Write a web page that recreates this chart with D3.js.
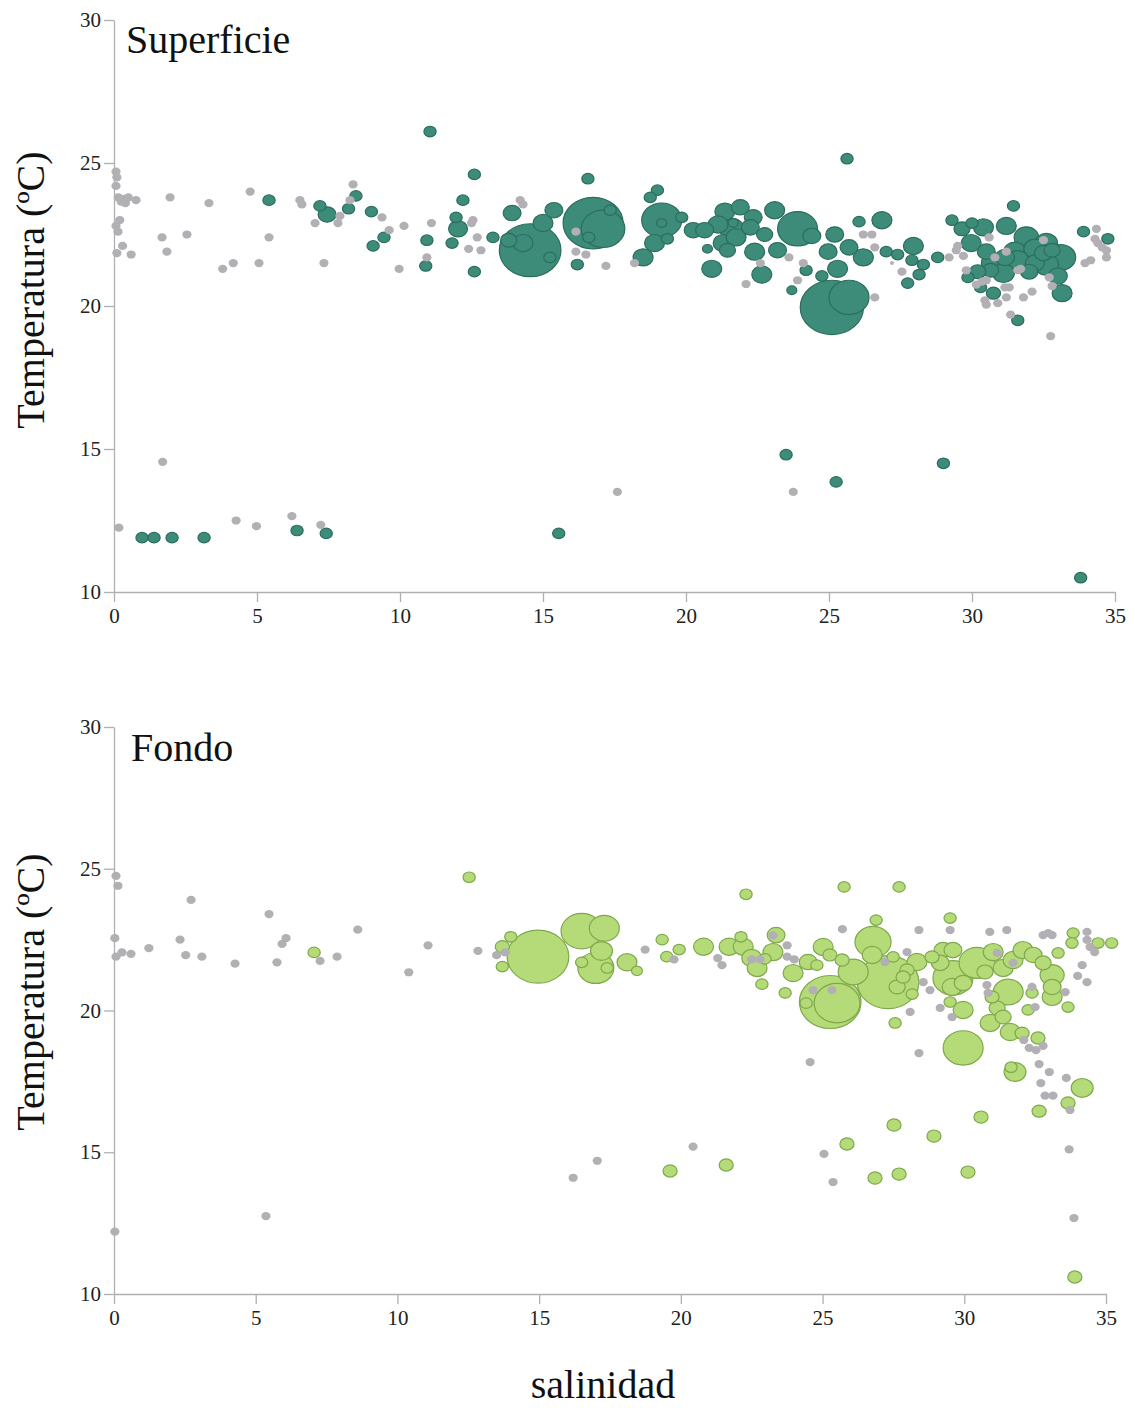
<!DOCTYPE html>
<html><head><meta charset="utf-8">
<script src="https://cdn.jsdelivr.net/npm/d3@7"></script>
<style>body{margin:0;background:#fff} svg{display:block} text{font-family:"Liberation Serif","Times New Roman",serif}</style>
</head><body><svg id="c" width="1135" height="1408"></svg>
<script>
const salTicks=[0,5,10,15,20,25,30,35];
const tempTicks=[10,15,20,25,30];
const panelTitles=["Superficie","Fondo"];
const yLabel="Temperatura (ºC)";
const xLabel="salinidad";

// [salinidad, temperatura] – estaciones sin captura (gris)
const topGray=[[0.07,24.7],[0.1,24.5],[0.07,24.2],[0.15,23.8],[0.35,23.75],[0.5,23.8],[0.4,23.6],[0.25,23.65],[0.77,23.7],[0.2,23.0],[0.07,22.8],[0.14,22.6],[0.3,22.1],[0.1,21.85],[0.6,21.8],[1.96,23.8],[1.68,22.4],[1.85,21.9],[2.55,22.5],[3.32,23.6],[3.8,21.3],[4.17,21.5],[4.76,24.0],[5.07,21.5],[5.42,22.4],[6.5,23.7],[6.57,23.55],[7.34,21.5],[7.03,22.9],[7.83,22.9],[7.9,23.15],[8.36,24.25],[8.25,23.7],[9.37,23.1],[9.62,22.65],[10.14,22.8],[9.97,21.3],[11.1,22.9],[10.94,21.7],[12.5,22.9],[12.55,23.0],[12.4,22.0],[12.7,22.4],[12.83,21.95],[14.2,23.7],[14.3,23.55],[16.15,22.6],[16.15,21.9],[16.5,21.8],[17.2,21.4],[18.2,21.5],[22.6,21.5],[22.1,20.77],[23.6,21.7],[24.1,21.5],[23.9,20.9],[26.2,22.5],[26.5,22.5],[26.6,22.05],[26.6,20.3],[27.55,21.2],[29.2,21.7],[29.7,21.75],[29.5,22.1],[29.45,21.95],[29.8,21.25],[30.15,20.75],[30.35,20.85],[30.5,20.9],[30.6,22.4],[30.8,21.7],[31.2,21.9],[31.6,21.25],[31.7,21.3],[31.15,20.65],[31.3,20.65],[30.45,20.2],[30.5,20.05],[30.9,20.1],[31.2,20.3],[31.8,20.3],[32.1,20.5],[32.5,22.3],[32.7,21.0],[32.8,20.7],[31.35,19.7],[32.75,18.95],[34.35,22.7],[34.3,22.35],[34.4,22.2],[34.55,22.05],[34.7,21.95],[34.7,21.7],[33.95,21.5],[34.15,21.6],[0.17,12.25],[1.7,14.55],[4.27,12.5],[4.98,12.3],[6.22,12.65],[7.23,12.35],[17.6,13.5],[23.75,13.5]];
const topTiny=[[27.2,21.5]];

// [salinidad, temperatura, abundancia]
const topBubbles=[[5.42,23.7,1.5],[7.2,23.5,1.5],[7.45,23.2,3.2],[8.46,23.85,1.5],[8.2,23.4,1.5],[9.0,23.3,1.5],[9.44,22.4,1.5],[9.06,22.1,1.5],[10.94,22.3,1.5],[10.9,21.4,1.5],[11.05,26.1,1.5],[12.2,23.7,1.5],[11.96,23.1,1.5],[12.03,22.7,3.6],[11.82,22.2,1.5],[12.6,24.6,1.5],[12.6,21.2,1.5],[13.92,23.25,3.2],[13.25,22.4,1.5],[14.55,21.95,38],[14.3,22.2,4],[13.8,22.3,2.6],[15.0,22.9,4],[15.38,23.35,3.2],[15.24,21.7,1.5],[16.57,24.45,1.5],[16.2,21.45,1.5],[16.75,22.9,36],[17.1,22.7,19],[17.35,23.35,1.5],[16.6,22.4,1.5],[19.0,24.05,1.5],[18.75,23.8,1.5],[19.15,23.0,16],[19.15,22.9,1],[19.85,23.1,1.5],[18.9,22.2,4],[18.5,21.7,4],[19.35,22.35,1.5],[20.25,22.65,3.2],[20.65,22.65,3.2],[21.36,23.3,4],[21.9,23.45,3.2],[22.35,23.1,3.2],[21.65,22.9,1],[21.12,22.85,4],[21.3,22.2,4],[22.25,22.75,3.2],[21.75,22.4,4],[21.6,22.7,6],[20.75,22.0,1],[21.45,21.95,2.6],[22.4,21.9,4],[22.75,22.5,2.6],[23.1,23.35,4],[23.2,21.95,3.2],[20.9,21.3,4],[22.65,21.1,4],[23.9,22.7,16],[24.4,22.45,3.2],[24.97,21.9,3.2],[25.2,22.5,3.2],[25.7,22.05,3.2],[26.2,21.7,4],[26.05,22.95,1.5],[26.85,23.0,4],[25.3,21.3,4],[24.75,21.05,1.5],[24.2,21.25,1.5],[23.7,20.55,1],[25.63,25.15,1.5],[25.1,19.95,40],[25.7,20.3,16],[27.0,21.9,1.5],[27.4,21.8,1.5],[27.95,22.1,4],[27.9,21.6,1.5],[28.3,21.45,1.5],[28.15,21.1,1.5],[27.75,20.8,1.5],[28.8,21.7,1.5],[29.3,23.0,1.5],[29.65,22.7,2.6],[30.0,22.9,1.5],[30.4,22.75,4],[29.97,22.2,4],[31.2,22.8,4],[31.45,23.5,1.5],[31.9,22.4,6],[32.6,22.2,5],[33.1,21.7,9],[32.6,21.45,6],[33.0,21.05,3.6],[33.15,20.45,4],[31.5,21.9,5],[31.15,21.7,3.6],[30.75,21.5,5.8],[31.1,21.15,4.8],[30.65,21.25,2.6],[30.2,21.2,2.6],[29.86,21.0,1.5],[30.3,20.65,1.5],[30.75,20.45,2],[32.2,21.5,3.6],[32.5,21.85,3.2],[32.8,21.95,2.6],[32.2,22.0,5],[31.6,21.6,5],[30.5,21.9,3.2],[32.0,21.2,3],[31.6,19.5,1.5],[33.9,22.6,1.5],[34.75,22.35,1.5],[0.98,11.9,1.5],[1.4,11.9,1.5],[2.03,11.9,1.5],[3.15,11.9,1.5],[6.4,12.15,1.5],[7.42,12.05,1.5],[15.55,12.05,1.5],[23.5,14.8,1.5],[25.25,13.85,1.5],[29.0,14.5,1.5],[33.8,10.5,1.5]];

const bottomGray=[[0.07,24.75],[0.14,24.4],[0.03,22.55],[0.07,21.9],[0.28,22.05],[0.6,22.0],[1.23,22.2],[2.72,23.9],[2.33,22.5],[2.53,21.95],[3.1,21.9],[4.27,21.65],[5.47,23.4],[6.07,22.55],[5.93,22.35],[5.75,21.7],[7.27,21.75],[7.87,21.9],[8.6,22.85],[10.4,21.35],[11.08,22.3],[12.84,22.1],[13.5,21.95],[13.8,22.05],[18.74,22.15],[19.76,21.8],[21.3,21.85],[21.45,21.6],[22.5,21.8],[23.25,22.65],[23.75,22.3],[23.75,21.9],[24.0,21.8],[22.8,21.8],[25.7,22.87],[24.66,20.72],[25.33,20.72],[24.56,18.18],[27.2,21.71],[27.98,22.06],[28.4,22.84],[29.5,22.84],[28.09,19.95],[28.4,18.5],[28.55,21.0],[28.79,20.72],[29.15,20.09],[29.57,19.77],[30.9,22.77],[31.5,22.84],[31.16,22.03],[31.72,21.68],[30.8,20.9],[30.84,20.62],[32.78,22.66],[32.96,22.73],[33.1,22.66],[34.33,22.77],[34.33,22.49],[34.44,22.24],[34.6,22.06],[34.16,21.6],[34.0,21.22],[34.33,21.0],[32.39,20.83],[32.5,20.12],[33.56,20.65],[32.1,18.96],[32.29,18.68],[32.53,18.6],[32.78,18.75],[32.64,18.11],[33.0,17.83],[33.6,17.62],[32.7,17.44],[32.85,17.0],[33.13,17.0],[33.73,16.49],[33.7,15.1],[33.87,12.68],[25.05,14.94],[25.37,13.95],[20.43,15.2],[16.2,14.1],[17.05,14.7],[5.36,12.75],[0.03,12.2]];

const bottomBubbles=[[7.06,22.05,1.5],[12.53,24.7,1.5],[14.0,22.6,1.5],[13.7,22.25,2],[13.7,21.55,1.5],[14.96,21.9,38],[16.5,22.8,17],[17.3,22.9,9],[17.2,22.1,4.8],[17.0,21.5,13],[16.5,21.7,1.5],[17.4,21.5,1.5],[18.1,21.7,4],[18.45,21.4,1.2],[19.34,22.5,1.5],[19.94,22.15,1.5],[19.5,21.9,1.5],[20.8,22.25,4],[22.3,24.1,1.5],[21.7,22.25,4],[22.12,22.6,1.5],[22.2,22.25,4],[22.5,21.85,4],[22.69,21.5,4],[22.97,21.82,1.5],[22.86,20.93,1.5],[23.36,22.66,3.2],[23.25,22.06,4],[23.68,20.62,1.5],[23.96,21.32,4],[24.49,21.71,3.2],[25.02,22.24,4],[25.26,21.96,2],[25.69,21.78,2],[24.8,21.6,1.5],[25.27,20.3,38],[25.51,20.26,21],[24.42,20.26,1.5],[26.08,21.36,9],[26.78,22.42,13],[26.75,21.96,4],[27.31,21.0,38],[27.63,20.83,2.6],[27.56,19.56,1.5],[27.49,21.89,1.5],[27.98,21.43,2],[27.84,21.18,2],[28.16,20.58,1.5],[28.33,21.71,4],[28.86,21.89,2],[29.25,22.13,3.2],[29.6,22.13,3.2],[29.15,21.68,3.2],[29.6,21.15,16],[29.57,20.83,4],[29.96,20.97,3.2],[29.96,20.02,4],[29.5,20.3,1.5],[29.96,18.68,16],[30.45,21.68,13],[30.73,21.36,2.6],[31.02,22.06,4],[31.37,21.5,4],[31.55,20.65,9],[30.98,20.48,2],[31.16,20.09,2.6],[31.37,19.77,2.6],[30.91,19.56,4],[31.62,19.24,4],[32.04,19.2,2],[31.72,21.78,4],[32.07,22.13,4],[32.43,21.96,3.2],[32.78,21.68,2.6],[33.1,21.25,5.8],[33.1,20.83,3.2],[33.1,20.48,4],[33.31,22.03,1.5],[32.39,20.62,1.5],[32.25,20.02,1.5],[32.6,19.03,2],[31.79,17.83,4.8],[31.65,18.0,1.5],[34.16,17.27,4.8],[33.66,20.12,1.5],[25.76,24.36,1.5],[27.7,24.36,1.5],[26.89,23.19,1.5],[29.5,23.26,1.5],[33.84,22.73,1.5],[33.8,22.38,1.5],[34.72,22.38,1.5],[35.2,22.38,1.5],[33.66,16.74,2],[32.64,16.45,2],[30.59,16.24,2],[27.52,15.96,2],[28.93,15.57,2],[25.86,15.29,2],[26.85,14.09,2],[27.7,14.23,2],[30.13,14.3,2],[33.9,10.6,2],[19.62,14.34,2],[21.6,14.55,2]];

const FONT='"Liberation Serif","Times New Roman",serif';
const svg=d3.select('#c');
const rScale=d3.scaleSqrt().domain([0,40]).range([0,31.6]);
const ASPECT=0.86;

function panel(cfg){
  const x=d3.scaleLinear().domain([0,35]).range([cfg.left,cfg.right]);
  const y=d3.scaleLinear().domain([10,30]).range([cfg.bottom,cfg.top]);
  const g=svg.append('g');
  const bub=cfg.bubbles.slice().sort((a,b)=>b[2]-a[2]);
  g.selectAll('ellipse.b').data(bub).enter().append('ellipse').attr('class','b')
    .attr('cx',d=>x(d[0])).attr('cy',d=>y(d[1]))
    .attr('rx',d=>rScale(d[2])).attr('ry',d=>rScale(d[2])*ASPECT)
    .attr('fill',cfg.fill).attr('stroke',cfg.stroke).attr('stroke-width',1.2);
  g.selectAll('ellipse.g').data(cfg.gray).enter().append('ellipse').attr('class','g')
    .attr('cx',d=>x(d[0])).attr('cy',d=>y(d[1])).attr('rx',4.6).attr('ry',4.1)
    .attr('fill','#b2b0b4');
  if(cfg.tiny) g.selectAll('circle.t').data(cfg.tiny).enter().append('circle').attr('class','t')
    .attr('cx',d=>x(d[0])).attr('cy',d=>y(d[1])).attr('r',2).attr('fill','#b2b0b4');
  const ax=g.append('g').attr('transform',`translate(0,${cfg.bottom})`)
    .call(d3.axisBottom(x).tickValues(salTicks).tickSize(10).tickPadding(6).tickSizeOuter(0));
  const ay=g.append('g').attr('transform',`translate(${cfg.left},0)`)
    .call(d3.axisLeft(y).tickValues(tempTicks).tickSize(10).tickPadding(3).tickSizeOuter(0));
  [ax,ay].forEach(a=>{
    a.attr('font-family',null).attr('font-size',null);
    a.select('.domain').attr('stroke','#b0b0b0').attr('stroke-width',1.3);
    a.selectAll('.tick line').attr('stroke','#b0b0b0').attr('stroke-width',1.3);
    a.selectAll('.tick text').attr('fill','#222').style('font-size','21px').style('font-family',FONT);
  });
  g.append('text').attr('x',cfg.titleX).attr('y',cfg.titleY).text(cfg.title)
    .style('font-size','40px').style('font-family',FONT).attr('fill','#111');
  g.append('text').attr('transform',`translate(44,${cfg.ylabY}) rotate(-90)`)
    .attr('text-anchor','middle').text(yLabel).style('font-size','40px').style('font-family',FONT).attr('fill','#111');
}

panel({left:114,right:1115,top:20,bottom:592,gray:topGray,tiny:topTiny,bubbles:topBubbles,
  fill:'#3d8b79',stroke:'#2c6d5e',title:panelTitles[0],titleX:126,titleY:53,ylabY:290});
panel({left:114,right:1106,top:727,bottom:1294,gray:bottomGray,bubbles:bottomBubbles,
  fill:'#b5da78',stroke:'#7ea84c',title:panelTitles[1],titleX:131,titleY:761,ylabY:992});

svg.append('text').attr('x',603).attr('y',1398).attr('text-anchor','middle')
  .text(xLabel).style('font-size','40px').style('font-family',FONT).attr('fill','#111');
</script></body></html>
